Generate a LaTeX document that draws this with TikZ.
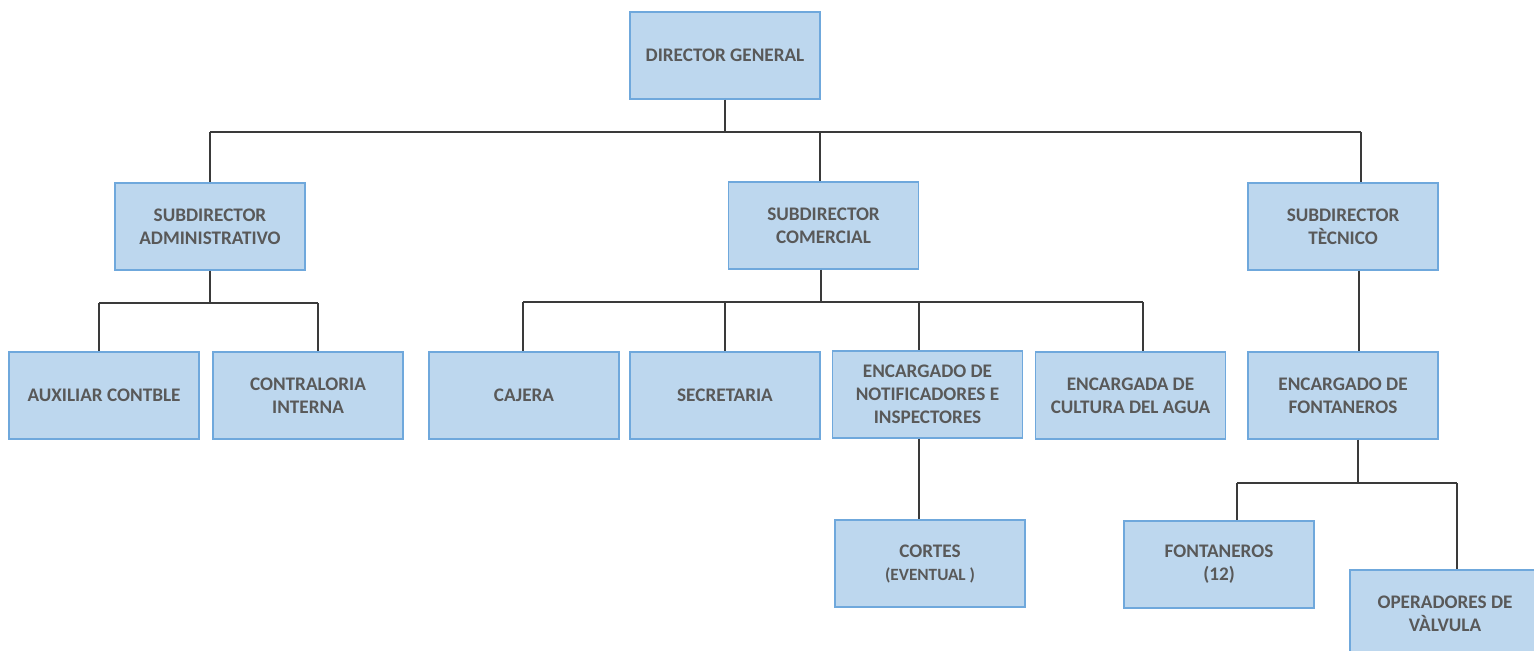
\documentclass[tikz,border=0pt]{standalone}
\usepackage{fontspec}
\setmainfont{Carlito}
\definecolor{boxfill}{HTML}{BDD7EE}
\definecolor{boxline}{HTML}{6FA8DC}
\definecolor{boxtext}{HTML}{595959}
\definecolor{linegray}{HTML}{3A3A3A}
\tikzset{
  puesto/.style={draw=boxline, fill=boxfill, line width=0.7pt, minimum width=95pt, minimum height=43.5pt,
    align=center, text=boxtext, inner sep=1pt, font=\bfseries\fontsize{9.6}{11.5}\selectfont},
  rama/.style={draw=linegray, line width=0.6pt}
}
\begin{document}
\begin{tikzpicture}[x=0.5pt,y=-0.5pt]
	\clip (0,0) rectangle (1534,650);
	% boxes
	\node[puesto] (dir) at (725,55.5) {DIRECTOR GENERAL};
	\node[puesto] (sadm) at (210,226.5) {SUBDIRECTOR\\ADMINISTRATIVO};
	\node[puesto] (scom) at (823.5,225.5) {SUBDIRECTOR\\COMERCIAL};
	\node[puesto] (stec) at (1343,226.5) {SUBDIRECTOR\\TÈCNICO};
	\node[puesto] (aux) at (104,395.5) {AUXILIAR CONTBLE};
	\node[puesto] (contra) at (308,395.5) {CONTRALORIA\\INTERNA};
	\node[puesto] (cajera) at (524,395.5) {CAJERA};
	\node[puesto] (secre) at (725,395.5) {SECRETARIA};
	\node[puesto] (notif) at (927.5,394.5) {ENCARGADO DE\\NOTIFICADORES E\\INSPECTORES};
	\node[puesto] (cultura) at (1130.5,395.5) {ENCARGADA DE\\CULTURA DEL AGUA};
	\node[puesto] (efon) at (1343,395.5) {ENCARGADO DE\\FONTANEROS};
	\node[puesto] (cortes) at (930,563.5) {CORTES\\{\fontsize{8.6}{11.5}\selectfont(EVENTUAL )}};
	\node[puesto] (fon) at (1219,564.5) {FONTANEROS\\(12)};
	\node[puesto] (oper) at (1445,613.5) {OPERADORES DE\\VÀLVULA};
	% director to subdirectors
	\coordinate (g1) at (210,132);
	\coordinate (g2) at (820,132);
	\coordinate (g3) at (1361,132);
	\draw[rama] (dir.south) -- (dir.south |- g1);
	\draw[rama] (g1) -- (g3);
	\foreach \g/\n in {g1/sadm,g2/scom,g3/stec} {
	\draw[rama] (\g) -- (\g |- \n.north);
	}
	% administrativo
	\coordinate (a1) at (99,303);
	\coordinate (a2) at (318,303);
	\draw[rama] (sadm.south) -- (sadm.south |- a1);
	\draw[rama] (a1) -- (a2);
	\foreach \g/\n in {a1/aux,a2/contra} {
	\draw[rama] (\g) -- (\g |- \n.north);
	}
	% comercial
	\coordinate (c1) at (523,302);
	\coordinate (c2) at (725,302);
	\coordinate (c3) at (919,302);
	\coordinate (c4) at (1143,302);
	\draw[rama] ([xshift=-1.25pt]scom.south) -- ([xshift=-1.25pt]scom.south |- c1);
	\draw[rama] (c1) -- (c4);
	\foreach \g/\n in {c1/cajera,c2/secre,c3/notif,c4/cultura} {
	\draw[rama] (\g) -- (\g |- \n.north);
	}
	\draw[rama] (notif.south -| c3) -- (cortes.north -| c3);
	% tecnico
	\draw[rama] ([xshift=8pt]stec.south) -- ([xshift=8pt]efon.north);
	\coordinate (f1) at (1237,483);
	\coordinate (f2) at (1457,483);
	\draw[rama] ([xshift=7.5pt]efon.south) -- ([xshift=7.5pt]efon.south |- f1);
	\draw[rama] (f1) -- (f2);
	\foreach \g/\n in {f1/fon,f2/oper} {
	\draw[rama] (\g) -- (\g |- \n.north);
	}
\end{tikzpicture}
\end{document}
